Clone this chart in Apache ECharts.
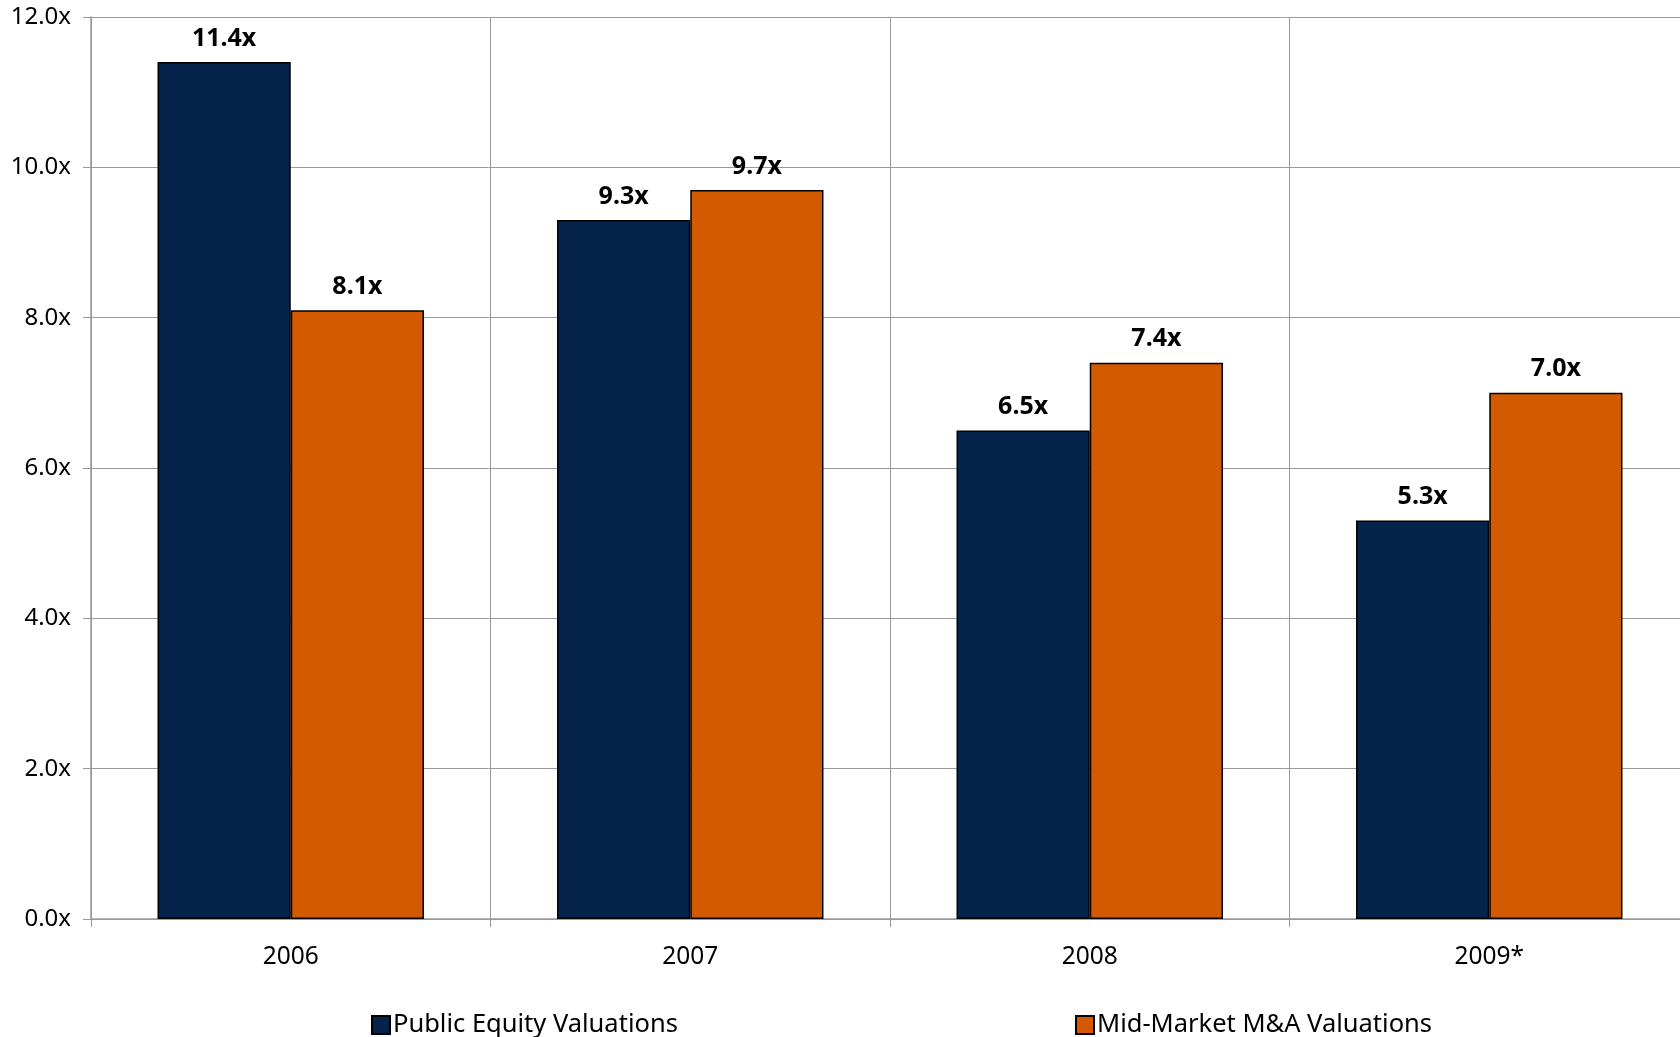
<!DOCTYPE html>
<html>
<head>
<meta charset="utf-8">
<script src="https://cdn.jsdelivr.net/npm/echarts@6/dist/echarts.min.js"></script>
<style>
  html, body { margin: 0; padding: 0; background: #ffffff; }
  #chart { width: 1680px; height: 1037px; }
</style>
</head>
<body>
<div id="chart"></div>
<script>
// Valuation multiples by year
const years = ['2006', '2007', '2008', '2009*'];
const publicEquity = [11.4, 9.3, 6.5, 5.3];
const midMarket = [8.1, 9.7, 7.4, 7.0];
const seriesNames = ['Public Equity Valuations', 'Mid-Market M&A Valuations'];

const FONT = '"Noto Sans", "Open Sans", sans-serif';
const NAVY = '#05234b';
const ORANGE = '#d35a00';

const chart = echarts.init(document.getElementById('chart'), null, { renderer: 'canvas' });

const labelStyle = {
  show: true,
  position: 'top',
  distance: 11,
  fontFamily: FONT,
  fontSize: 25,
  fontWeight: 'bold',
  color: '#000',
  formatter: p => p.value.toFixed(1) + 'x'
};

const legendText = { fontFamily: FONT, fontSize: 25.5, color: '#000', padding: [0, 0, 0, -2] };

chart.setOption({
  animation: false,
  textStyle: { fontFamily: FONT },
  // plot area runs a little past the right edge of the canvas
  grid: {
    left: 91, width: 1598, top: 17, bottom: 118,
    containLabel: false,
    outerBoundsMode: 'none'
  },
  legend: [
    {
      data: [seriesNames[0]],
      left: 366, top: 1007,
      icon: 'rect', itemWidth: 18, itemHeight: 18,
      textStyle: legendText
    },
    {
      data: [seriesNames[1]],
      left: 1070, top: 1007,
      icon: 'rect', itemWidth: 18, itemHeight: 18,
      textStyle: legendText
    }
  ],
  xAxis: {
    type: 'category',
    data: years,
    boundaryGap: true,
    axisLine: { show: true, lineStyle: { color: '#999', width: 1.5 } },
    axisTick: { show: true, length: 8, lineStyle: { color: '#999', width: 1 } },
    axisLabel: { fontFamily: FONT, fontSize: 24.5, color: '#000', margin: 26 },
    splitLine: { show: true, lineStyle: { color: '#999', width: 1 } }
  },
  yAxis: {
    type: 'value',
    min: 0, max: 12, interval: 2,
    axisLine: { show: true, lineStyle: { color: '#999', width: 1.5 } },
    axisTick: { show: true, length: 8, lineStyle: { color: '#999', width: 1 } },
    axisLabel: {
      fontFamily: FONT, fontSize: 24, color: '#000', margin: 20,
      formatter: v => v.toFixed(1) + 'x'
    },
    splitLine: { show: true, lineStyle: { color: '#999', width: 1 } }
  },
  series: [
    {
      name: seriesNames[0],
      type: 'bar',
      data: publicEquity,
      barGap: '0%',
      barCategoryGap: '33.3%',
      itemStyle: { color: NAVY, borderColor: '#000', borderWidth: 1.5 },
      label: labelStyle
    },
    {
      name: seriesNames[1],
      type: 'bar',
      data: midMarket,
      barGap: '0%',
      barCategoryGap: '33.3%',
      itemStyle: { color: ORANGE, borderColor: '#000', borderWidth: 1.5 },
      label: labelStyle
    }
  ]
});
</script>
</body>
</html>
